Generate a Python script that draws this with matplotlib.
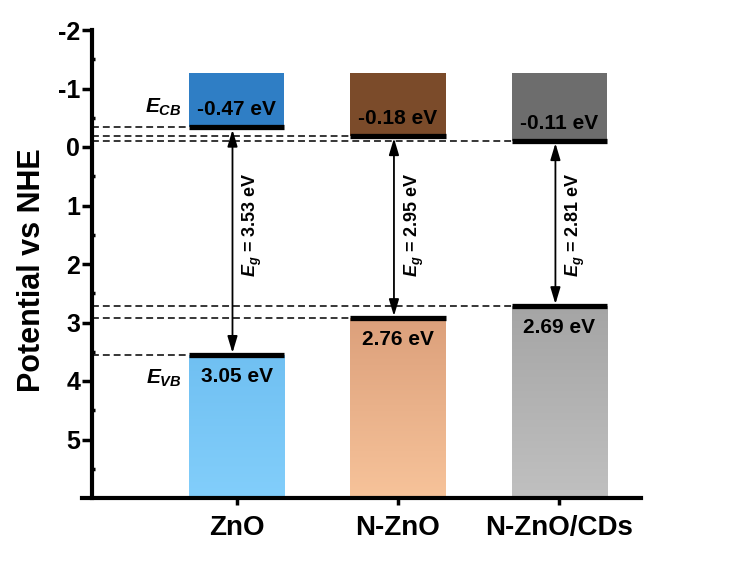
import matplotlib
matplotlib.use('Agg')
import matplotlib.pyplot as plt
import numpy as np
from matplotlib.colors import to_rgb

# band positions as drawn in the figure (V vs NHE)
samples = ['ZnO', 'N-ZnO', 'N-ZnO/CDs']
cb_level = [-0.335, -0.19, -0.105]
vb_level = [3.56, 2.93, 2.725]
cb_text = ['-0.47 eV', '-0.18 eV', '-0.11 eV']
vb_text = ['3.05 eV', '2.76 eV', '2.69 eV']
eg_text = ['3.53', '2.95', '2.81']
block_top = -1.27
y_bottom = 6
y_ticks = [-2, -1, 0, 1, 2, 3, 4, 5]
y_ticklabels = ['-2', '-1', '0', '1', '2', '3', '4', '5']

cb_colors = ['#2f7ec5', '#7b4b2a', '#6d6d6d']
vb_colors = [('#70c0f2', '#82cefb'), ('#dca07b', '#f7c39a'), ('#a5a5a5', '#c0c0c0')]

plt.rcParams['font.family'] = ['Liberation Sans', 'DejaVu Sans']
plt.rcParams['font.weight'] = 'bold'
plt.rcParams['mathtext.fontset'] = 'custom'
plt.rcParams['mathtext.rm'] = 'Liberation Sans:bold'
plt.rcParams['mathtext.it'] = 'Liberation Sans:italic'
plt.rcParams['mathtext.bf'] = 'Liberation Sans:bold'
plt.rcParams['mathtext.bfit'] = 'Liberation Sans:italic:bold'

fig = plt.figure(figsize=(7.33, 5.71), dpi=100)
ax = fig.add_axes([82 / 733, 1 - 498 / 571, (641 - 82) / 733, 468 / 571])

x = np.arange(len(samples))
w = 0.59
spine_x = -0.895

for i in range(len(samples)):
    left, right = x[i] - w / 2, x[i] + w / 2

    # conduction band block
    ax.bar(x[i], cb_level[i] - block_top, bottom=block_top, width=w,
           color=cb_colors[i], zorder=2)

    # valence band block with a soft gradient
    c0 = np.array(to_rgb(vb_colors[i][0]))
    c1 = np.array(to_rgb(vb_colors[i][1]))
    grad = np.linspace(0, 1, 200)[:, None, None]
    img = c0 + (c1 - c0) * grad
    ax.imshow(img, extent=(left, right, y_bottom, vb_level[i]), origin='upper',
              aspect='auto', zorder=2)

    # band edges
    for lev in (cb_level[i], vb_level[i]):
        ax.plot([left, right], [lev, lev], color='black', lw=3.8,
                solid_capstyle='butt', zorder=3)
        ax.plot([spine_x, left], [lev, lev], color='black', lw=1.1,
                dashes=(4.5, 2.6), zorder=1)

    # band gap arrow
    xa = x[i] - 0.025
    ax.annotate('', xy=(xa, vb_level[i] - 0.04), xytext=(xa, cb_level[i] + 0.04),
                arrowprops=dict(arrowstyle='<|-|>,head_length=1.0,head_width=0.3',
                                color='black', lw=1.3, mutation_scale=10,
                                shrinkA=0, shrinkB=0), zorder=4)
    ax.text(x[i] + 0.1, 1.33, r'$\mathbfit{E_g}$ = ' + eg_text[i] + ' eV',
            rotation=90, ha='center', va='center', fontsize=13, zorder=4)

    ax.text(x[i], cb_level[i] - 0.3, cb_text[i], ha='center', va='center',
            fontsize=15, zorder=4)
    ax.text(x[i], vb_level[i] + 0.36, vb_text[i], ha='center', va='center',
            fontsize=15, zorder=4)

ax.text(-0.452, -0.685, r'$\mathit{E}_{\mathit{CB}}$', ha='center', va='center', fontsize=15)
ax.text(-0.452, 3.96, r'$\mathit{E}_{\mathit{VB}}$', ha='center', va='center', fontsize=15)

ax.set_xlim(-0.957, 2.505)
ax.set_ylim(y_bottom, -2)

ax.set_yticks(y_ticks)
ax.set_yticklabels(y_ticklabels)
ax.set_yticks(np.arange(-1.5, 6, 1), minor=True)
ax.tick_params(axis='y', which='major', direction='out', length=7, width=2.5,
               labelsize=18, pad=1.5)
ax.tick_params(axis='y', which='minor', direction='in', length=2.5, width=2.5)
ax.set_xticks(x)
ax.set_xticklabels(samples)
ax.tick_params(axis='x', direction='out', length=5, width=2.5, labelsize=20, pad=7)

for s in ['top', 'right']:
    ax.spines[s].set_visible(False)
ax.spines['left'].set_position(('data', spine_x))
ax.spines['left'].set_linewidth(3)
ax.spines['bottom'].set_linewidth(3)

ax.set_ylabel('Potential vs NHE', fontsize=22, fontweight='bold', va='center')
ax.yaxis.set_label_coords(-0.089, 0.487)

fig.savefig('out.png', dpi=100)
